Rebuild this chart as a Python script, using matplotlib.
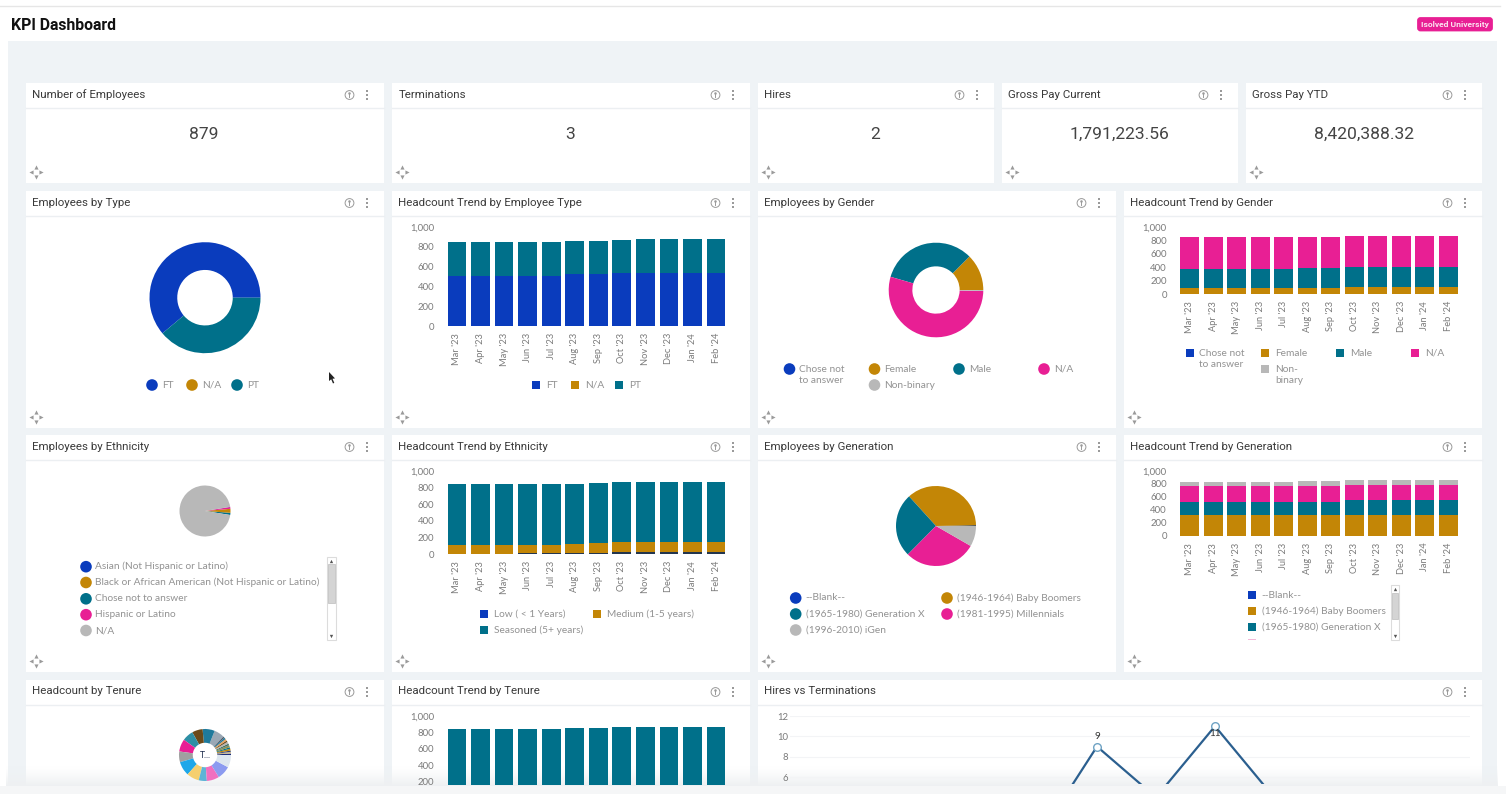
import numpy as np
import matplotlib
matplotlib.use("Agg")
import matplotlib.pyplot as plt
from matplotlib.patches import Circle, Rectangle, FancyBboxPatch, Polygon

# ---------- data ----------
months = ["Mar '23", "Apr '23", "May '23", "Jun '23", "Jul '23", "Aug '23",
          "Sep '23", "Oct '23", "Nov '23", "Dec '23", "Jan '24", "Feb '24"]
count_ticks = [0, 200, 400, 600, 800, 1000]
count_labels = ["0", "200", "400", "600", "800", "1,000"]

kpi_titles = ["Number of Employees", "Terminations", "Hires", "Gross Pay Current", "Gross Pay YTD"]
kpi_values = ["879", "3", "2", "1,791,223.56", "8,420,388.32"]

type_names = ["FT", "N/A", "PT"]
type_pie = [537, 0, 342]
type_ft = [507, 507, 507, 507, 507, 520, 520, 530, 537, 537, 537, 537]
type_na = [0, 0, 0, 0, 0, 0, 0, 1, 0, 0, 0, 0]
type_pt = [342, 342, 342, 342, 342, 332, 339, 335, 335, 335, 335, 335]

gender_names = ["Chose not\nto answer", "Female", "Male", "N/A", "Non-binary"]
gender_pie = [0, 110, 290, 476, 3]
gender_female = [92, 92, 92, 92, 92, 92, 92, 104, 104, 104, 104, 104]
gender_male = [284, 284, 284, 284, 284, 294, 294, 292, 292, 292, 292, 292]
gender_na = [465, 465, 465, 465, 465, 465, 465, 465, 465, 465, 465, 465]

ethnicity_names = ["Asian (Not Hispanic or Latino)",
                   "Black or African American (Not Hispanic or Latino)",
                   "Chose not to answer", "Hispanic or Latino", "N/A"]
eth_chose = 12
eth_black = 22
eth_hispanic = 10
eth_asian = 1
eth_na = 834

tenure_band_names = ["Low ( < 1 Years)", "Medium (1-5 years)", "Seasoned (5+ years)"]
band_low = [5, 5, 5, 8, 8, 12, 12, 20, 30, 30, 28, 30]
band_medium = [107, 107, 107, 104, 104, 108, 116, 120, 110, 110, 112, 110]
band_seasoned = [728, 728, 728, 728, 728, 728, 727, 723, 723, 723, 723, 723]

generation_names = ["--Blank--", "(1946-1964) Baby Boomers", "(1965-1980) Generation X",
                    "(1981-1995) Millennials", "(1996-2010) iGen"]
generation_pie = [3, 320, 227, 256, 73]
gen_boomers = [320, 320, 320, 320, 320, 320, 320, 320, 320, 320, 320, 320]
gen_x = [206, 206, 206, 206, 206, 206, 206, 232, 232, 232, 232, 232]
gen_millennials = [247, 247, 247, 247, 247, 247, 247, 231, 231, 231, 231, 231]
gen_igen = [62, 62, 62, 62, 62, 72, 72, 78, 78, 78, 78, 78]

tenure_pie = [8, 9, 7, 10, 8, 12, 9, 11, 8, 10, 9, 9, 56, 66, 58, 61, 68, 58, 78, 68, 44, 68, 73, 68]
tenure_colors = ["#1d2f7a", "#c9b68a", "#2b3f7f", "#c38606", "#00708a", "#8a8f55", "#3f6f5f",
                 "#b5b5b5", "#6b4a1a", "#e8a05a", "#1f7a9c", "#4c5a6a",
                 "#9aa8b5", "#1f7a9c", "#6b4a1a", "#2d8fa5", "#e81f94", "#a0a0a0",
                 "#1ea7e9", "#f5cf6e", "#5db4d6", "#f06fc0", "#8c9bf0", "#dde6ef"]
tenure_trend = [840, 840, 840, 840, 840, 850, 855, 865, 865, 865, 865, 865]

hires_months = [0, 1, 2, 3, 4]
hires_values = [0, 9, 4, 11, 4]
hires_ticks = [6, 8, 10, 12]

# ---------- style ----------
BLUE, GOLD, TEAL, PINK, GRAY = "#0a3cbd", "#c38606", "#00708a", "#e81f94", "#b8b8b8"
NAVY = "#23364f"
BG = "#eff3f6"
TITLE_C, LEG_C, TICK_C = "#3a3a3a", "#929292", "#7a7a7a"
plt.rcParams["font.family"] = ["Lato", "DejaVu Sans"]
TITLE_FONT = "Roboto"
LEG_SIZE = 7.3

W, H = 1506, 794
fig = plt.figure(figsize=(W / 100, H / 100), dpi=100, facecolor="white")
base = fig.add_axes([0, 0, 1, 1], zorder=0)
base.set_xlim(0, W); base.set_ylim(H, 0); base.axis("off")


def axpx(x0, y0, x1, y1, z=1):
    a = fig.add_axes([x0 / W, 1 - y1 / H, (x1 - x0) / W, (y1 - y0) / H], zorder=z)
    a.patch.set_alpha(0)
    return a


def card(x0, y0, x1, y1, title, move=True):
    base.add_patch(Rectangle((x0, y0), x1 - x0, y1 - y0, fc="white", ec="none", zorder=1))
    base.plot([x0, x1], [y0 + 25, y0 + 25], color="#eceff2", lw=1, zorder=2)
    base.text(x0 + 6.5, y0 + 11.5, title, fontsize=8.25, color=TITLE_C, va="center", ha="left",
              family=TITLE_FONT, zorder=3)
    base.add_patch(Circle((x1 - 34.5, y0 + 12), 4.4, fc="white", ec="#9a9a9a", lw=0.7, zorder=3))
    base.plot([x1 - 34.5, x1 - 34.5], [y0 + 11.4, y0 + 14.2], color="#9a9a9a", lw=0.7, zorder=4)
    base.plot([x1 - 34.5], [y0 + 9.6], marker="o", ms=0.8, color="#9a9a9a", zorder=4)
    for d in (-4, 0, 4):
        base.add_patch(Circle((x1 - 17, y0 + 12 + d), 1.0, fc="#808080", ec="none", zorder=3))
    if move:
        cx, cy = x0 + 10, y1 - 11
        for dx, dy, m in [(0, -5, "^"), (0, 5, "v"), (-5, 0, "<"), (5, 0, ">")]:
            base.plot([cx + dx], [cy + dy], marker=m, ms=3, color="#9a9a9a", mec="none", zorder=3)


def legend_circle(x, y, label, color, tx=None, dy=0):
    base.add_patch(Circle((x, y), 5.8, fc=color, ec="none", zorder=3))
    base.text(x + 10 if tx is None else tx, y + dy, label, fontsize=LEG_SIZE, color=LEG_C,
              va="center", ha="left", linespacing=1.3, zorder=3)


def legend_square(x, y, label, color, tx=None, dy=0):
    base.add_patch(Rectangle((x - 4, y - 4), 8, 8, fc=color, ec="none", zorder=3))
    base.text(x + 10 if tx is None else tx, y + dy, label, fontsize=LEG_SIZE, color=LEG_C,
              va="center", ha="left", linespacing=1.3, zorder=3)


def scrollbar(x0, x1, y0, y1, t0, t1):
    base.add_patch(Rectangle((x0, y0), x1 - x0, y1 - y0, fc="white", ec="#dcdcdc", lw=0.8, zorder=3))
    base.add_patch(Rectangle((x0 + 1, t0), x1 - x0 - 2, t1 - t0, fc="#d4d4d4", ec="#c4c4c4", lw=0.6, zorder=4))
    base.plot([(x0 + x1) / 2], [y0 + 4], marker="^", ms=2.4, color="#555555", mec="none", zorder=4)
    base.plot([(x0 + x1) / 2], [y1 - 4], marker="v", ms=2.4, color="#555555", mec="none", zorder=4)


def stacked(rect, series, colors, show_x=True, ticks=count_ticks, labels=count_labels, ylim=(0, 1000)):
    a = axpx(*rect)
    x = np.arange(len(months))
    bottom = np.zeros(len(months))
    for vals, c in zip(series, colors):
        a.bar(x, vals, width=0.8, bottom=bottom, color=c, linewidth=0)
        bottom = bottom + np.array(vals)
    a.set_xlim(-0.5, 11.5); a.set_ylim(*ylim)
    a.set_yticks(ticks); a.set_yticklabels(labels, fontsize=6.9, color=TICK_C)
    if show_x:
        a.set_xticks(x)
        a.set_xticklabels(months, rotation=90, fontsize=6.7, color=TICK_C)
    else:
        a.set_xticks([])
    a.tick_params(axis="both", length=0)
    a.tick_params(axis="y", pad=8)
    a.tick_params(axis="x", pad=5)
    for s in a.spines.values():
        s.set_visible(False)
    return a


def pie(cx, cy, r, values, colors, hole=None, start=0):
    a = axpx(cx - r, cy - r, cx + r, cy + r)
    wp = {"linewidth": 0}
    if hole:
        wp["width"] = 1 - hole
    a.pie(values, colors=colors, startangle=start, counterclock=True, radius=1, wedgeprops=wp)
    a.set_xlim(-1, 1); a.set_ylim(-1, 1)
    return a


# ---------- page ----------
base.add_patch(Rectangle((8, 41), 1489, 750, fc=BG, ec="none", zorder=0))
base.plot([0, 1500], [5.5, 5.5], color="#e6e6e6", lw=1)
base.text(11, 25, "KPI Dashboard", fontsize=11.3, fontweight="bold", color="#111111", family="Roboto",
          va="center", ha="left")
base.add_patch(FancyBboxPatch((1418.5, 18.5), 73, 11.5, boxstyle="round,pad=0,rounding_size=2",
                              fc=PINK, ec=PINK, lw=2))
base.text(1455, 24.5, "Isolved University", fontsize=6.1, fontweight="bold", color="#fbe3f0",
          family="Roboto", va="center", ha="center")

# ---------- KPI row ----------
kpi_x = [(26, 384), (392, 750), (758, 994), (1002, 1238), (1246, 1482)]
kpi_centres = [204, 570, 875, 1120, 1364]
for (x0, x1), t, v, c in zip(kpi_x, kpi_titles, kpi_values, kpi_centres):
    card(x0, 83, x1, 183, t)
    base.text(c, 134.5, v, fontsize=12.6, color="#444444", ha="center", va="center",
              family=TITLE_FONT, zorder=3)

# ---------- row 2 ----------
card(26, 191, 384, 428, "Employees by Type")
pie(205, 297.7, 55.5, type_pie, [BLUE, GOLD, TEAL], hole=0.5)
for x, n, c in zip([152, 192, 237], type_names, [BLUE, GOLD, TEAL]):
    legend_circle(x, 385, n, c)
base.add_patch(Polygon([(329, 372), (329, 381), (331.2, 379.3), (333, 383.5), (334.3, 382.8),
                        (332.5, 378.8), (335, 378.4)], fc="#222222", ec="none", zorder=4))

card(392, 191, 750, 428, "Headcount Trend by Employee Type")
stacked((445.2, 226.7, 727.8, 326), [type_ft, type_na, type_pt], [BLUE, GOLD, TEAL])
for x, n, c in zip([535.7, 575.3, 619.3], type_names, [BLUE, GOLD, TEAL]):
    legend_square(x, 385, n, c)

card(758, 191, 1116, 428, "Employees by Gender")
pie(936, 290, 47.3, gender_pie, [BLUE, GOLD, TEAL, PINK, GRAY], hole=0.5)
legend_circle(789.5, 369, gender_names[0], BLUE, dy=6)
legend_circle(874.5, 369, gender_names[1], GOLD)
legend_circle(959, 369, gender_names[2], TEAL)
legend_circle(1044, 369, gender_names[3], PINK)
legend_circle(874.5, 385, gender_names[4], GRAY)

card(1124, 191, 1482, 428, "Headcount Trend by Gender")
stacked((1178, 226.7, 1460, 294), [gender_female, gender_male, gender_na], [GOLD, TEAL, PINK])
legend_square(1190, 353, gender_names[0], BLUE, dy=6, tx=1199)
legend_square(1265, 353, gender_names[1], GOLD)
legend_square(1340, 353, gender_names[2], TEAL)
legend_square(1415, 353, gender_names[3], PINK)
legend_square(1265, 369, "Non-\nbinary", GRAY, dy=6)

# ---------- row 3 ----------
card(26, 435, 384, 672, "Employees by Ethnicity")
pie(205, 511, 25.5, [eth_chose, eth_black, eth_hispanic, eth_asian, eth_na],
    [TEAL, GOLD, PINK, BLUE, GRAY], start=-9)
for y, n, c in zip([566.7, 582.5, 598.8, 614.7, 630.5], ethnicity_names, [BLUE, GOLD, TEAL, PINK, GRAY]):
    legend_circle(86, y, n, c, tx=95.5)
scrollbar(327, 336, 556.7, 640, 564, 603)

card(392, 435, 750, 672, "Headcount Trend by Ethnicity")
stacked((445.2, 471, 727.8, 554), [band_low, band_medium, band_seasoned], [NAVY, GOLD, TEAL])
legend_square(484, 614, tenure_band_names[0], BLUE)
legend_square(597, 614, tenure_band_names[1], GOLD)
legend_square(484, 630, tenure_band_names[2], TEAL)

card(758, 435, 1116, 672, "Employees by Generation")
pie(936, 526, 40, generation_pie, [NAVY, GOLD, TEAL, PINK, GRAY])
legend_circle(795.7, 598, generation_names[0], BLUE)
legend_circle(947, 598, generation_names[1], GOLD)
legend_circle(795.7, 614, generation_names[2], TEAL)
legend_circle(947, 614, generation_names[3], PINK)
legend_circle(795.7, 630, generation_names[4], GRAY)

card(1124, 435, 1482, 672, "Headcount Trend by Generation")
stacked((1178, 471, 1460, 535.7), [gen_boomers, gen_x, gen_millennials, gen_igen], [GOLD, TEAL, PINK, GRAY])
for y, n, c in zip([595, 611, 627], generation_names, [BLUE, GOLD, TEAL]):
    legend_square(1251.7, y, n, c)
base.add_patch(Rectangle((1247.7, 638.5), 8, 1.5, fc="#f3b8d8", ec="none", zorder=3))
scrollbar(1391, 1399, 585, 640, 593, 619)

# ---------- row 4 ----------
card(26, 680, 384, 790, "Headcount by Tenure", move=False)
tp = pie(205, 755, 26, tenure_pie, tenure_colors, hole=0.47)
tp.text(0, 0, "T...", fontsize=6.2, color="#1c2a4a", ha="center", va="center")

card(392, 680, 750, 790, "Headcount Trend by Tenure", move=False)
stacked((445.2, 715.7, 727.8, 784.5), [tenure_trend], [TEAL], show_x=False,
        ticks=count_ticks[1:], labels=count_labels[1:], ylim=(166, 1000))

card(758, 680, 1482, 790, "Hires vs Terminations", move=False)
h = axpx(790, 716, 1470, 784)
h.set_xlim((790 - 1038) / 59, (1470 - 1038) / 59)
h.set_ylim(12 - 68 / 10.17, 12)
h.plot(hires_months, hires_values, color="#2b5f8f", lw=1.6, marker="o", ms=5.5,
       mfc="white", mec="#6fa3c4", mew=1.0)
h.set_yticks(hires_ticks); h.set_yticklabels([str(t) for t in hires_ticks], fontsize=6.9, color=TICK_C)
h.set_xticks([])
h.tick_params(axis="y", length=0, pad=1.5)
h.grid(axis="y", color="#f3f4f6", lw=0.8)
h.set_axisbelow(True)
for s in h.spines.values():
    s.set_visible(False)
h.annotate(str(hires_values[1]), (hires_months[1], hires_values[1]), xytext=(0, 7.5), textcoords="offset points",
           ha="center", va="center", fontsize=7.2, color="#333333")
h.annotate(str(hires_values[3]), (hires_months[3], hires_values[3]), xytext=(0, -5), textcoords="offset points",
           ha="center", va="center", fontsize=7.2, color="#333333")

# ---------- bottom fade of the screen capture ----------
ramp = np.zeros((40, 1, 4))
ramp[..., :3] = np.array([0.935, 0.945, 0.95])
ramp[:, 0, 3] = np.linspace(0, 1, 40) ** 1.3
base.imshow(ramp, extent=(6, 1498, 786, 766), aspect="auto", interpolation="bilinear", zorder=5)
base.set_xlim(0, W); base.set_ylim(H, 0)
top = fig.add_axes([0, 0, 1, 1], zorder=10)
top.set_xlim(0, W); top.set_ylim(H, 0); top.axis("off"); top.patch.set_alpha(0)
top.add_patch(Rectangle((0, 786), W, 8, fc="#f5f6f7", ec="none"))

fig.savefig("out.png", dpi=100)
